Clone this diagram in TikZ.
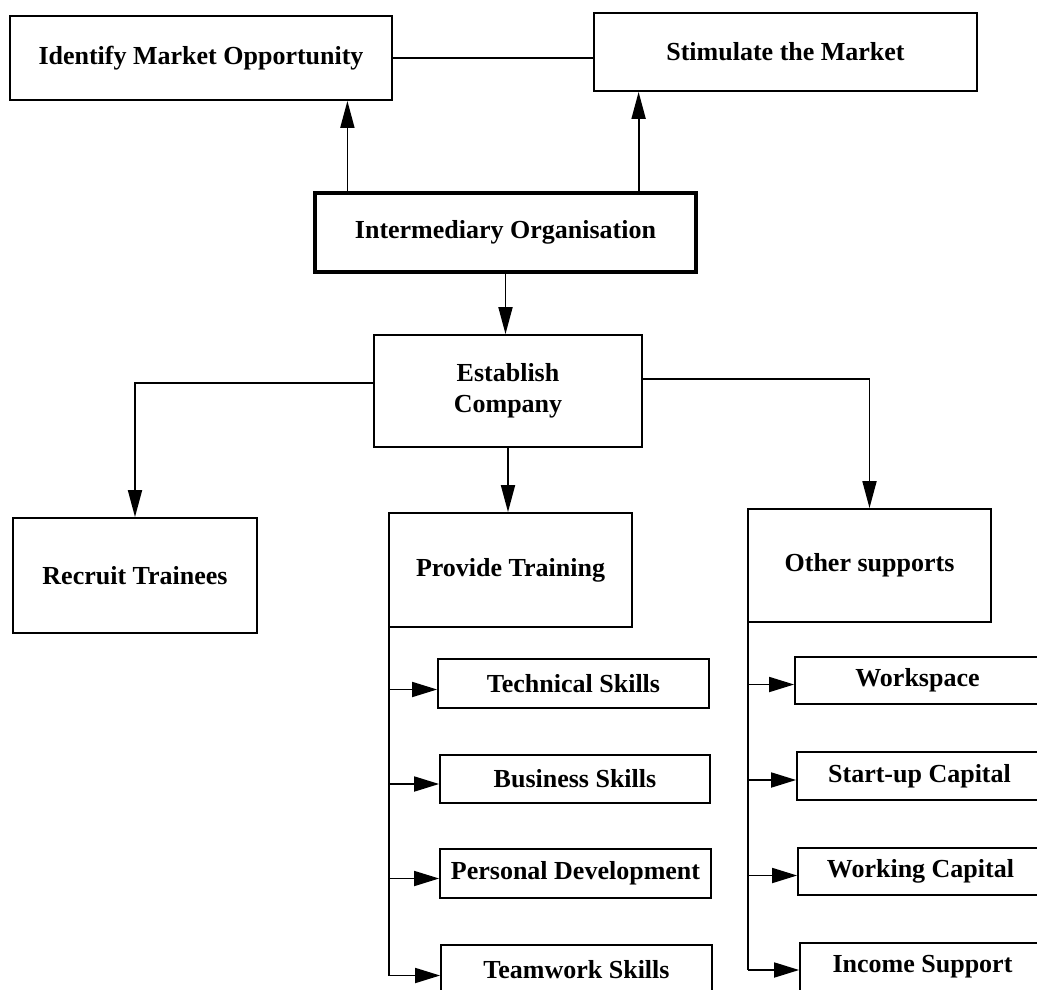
\documentclass[tikz,border=0pt]{standalone}
\usepackage{fontspec}
\setmainfont{Liberation Serif}
\usetikzlibrary{arrows.meta}
\tikzset{
  box/.style={draw, line width=1.8pt, inner sep=0pt, align=center,
    font=\fontsize{26}{31}\selectfont\bfseries},
  arr/.style={line width=1.8pt, -{Triangle[length=27pt,width=14pt]}},
  sarr/.style={line width=1.8pt, -{Triangle[length=25pt,width=15pt]}},
  conn/.style={line width=1.8pt},
}
\begin{document}
\begin{tikzpicture}[x=1pt,y=-1pt]
\useasboundingbox (0,0) rectangle (1037,990);
\clip (0,0) rectangle (1037,990);
% top row
\node[box, minimum width=382pt, minimum height=84pt] (idm) at (201,58) {Identify Market Opportunity};
\node[box, minimum width=383pt, minimum height=78pt] (stim) at (785.5,52) {Stimulate the Market};
\node[box, line width=3.2pt, minimum width=381pt, minimum height=79pt] (inter) at (505.5,232.5) {Intermediary Organisation};
\node[box, minimum width=268pt, minimum height=112pt] (est) at (508,391) {Establish\\Company};
% second level
\node[box, minimum width=244pt, minimum height=115pt] (rec) at (135,575.5) {Recruit Trainees};
\node[box, minimum width=243pt, minimum height=114pt] (prov) at (510.5,570) {Provide Training};
\node[box, minimum width=243pt, minimum height=113pt] (oth) at (869.5,565.5) {Other supports};
% training items
\node[box, minimum width=271pt, minimum height=49pt] (tech) at (573.5,683.5) {Technical Skills};
\node[box, minimum width=270pt, minimum height=48pt] (bus) at (575,779) {Business Skills};
\node[box, minimum width=271pt, minimum height=49pt] (pers) at (575.5,873.5) {Personal Development};
\node[box, minimum width=271pt, minimum height=49pt] (team) at (576.5,969.5) {Teamwork Skills};
% support items
\node[box, minimum width=245pt, minimum height=47pt] (work) at (917.5,680.5) {Workspace};
\node[box, minimum width=245pt, minimum height=48pt] (start) at (919.5,776) {Start-up Capital};
\node[box, minimum width=245pt, minimum height=47pt] (wcap) at (920.5,871.5) {Working Capital};
\node[box, minimum width=245pt, minimum height=48pt] (inc) at (922.5,967) {Income Support};

% connectors at top
\draw[conn] (idm.east) -- (idm.east -| stim.west);
\coordinate (ileft) at ([xshift=34pt]inter.north west);
\coordinate (iright) at ([xshift=-59pt]inter.north east);
\draw[arr] (ileft) -- (ileft |- idm.south);
\draw[arr] (iright) -- (iright |- stim.south);
\draw[arr] (inter.south) -- (inter.south |- est.north);
% establish branches
\draw[arr] ([yshift=8pt]est.west) -| (rec.north);
\draw[arr] (est.south) -- (est.south |- prov.north);
\draw[arr] ([yshift=12pt]est.east) -| (oth.north);
% training trunk
\coordinate (pt) at ([xshift=1pt]prov.south west);
\draw[conn] (pt) -- (pt |- team.west) -- ++(0,6);
\draw[sarr] (pt |- tech.west) ++(0,6) -- ([yshift=-6pt]tech.west);
\draw[sarr] (pt |- bus.west) ++(0,5) -- ([yshift=-5pt]bus.west);
\draw[sarr] (pt |- pers.west) ++(0,5) -- ([yshift=-5pt]pers.west);
\draw[sarr] (pt |- team.west) ++(0,6) -- ([yshift=-6pt]team.west);
% support trunk
\coordinate (ot) at ([xshift=1pt]oth.south west);
\draw[conn] (ot) -- (ot |- inc.west) -- ++(0,3);
\draw[sarr] (ot |- work.west) ++(0,4) -- ([yshift=-4pt]work.west);
\draw[sarr] (ot |- start.west) ++(0,4) -- ([yshift=-4pt]start.west);
\draw[sarr] (ot |- wcap.west) ++(0,4) -- ([yshift=-4pt]wcap.west);
\draw[sarr] (ot |- inc.west) ++(0,3) -- ([yshift=-3pt]inc.west);
\end{tikzpicture}
\end{document}
